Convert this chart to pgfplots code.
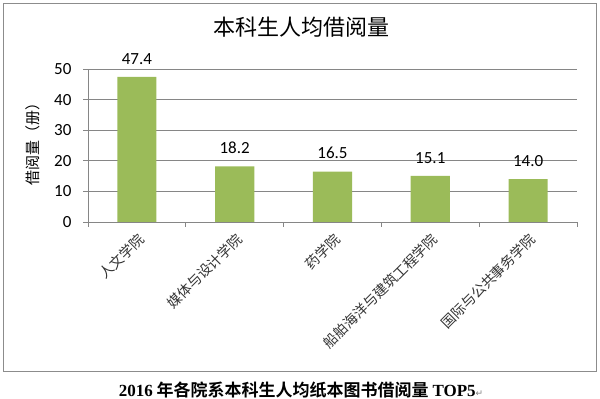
\documentclass[border=0pt]{standalone}
\usepackage{fontspec}
\setmainfont{Carlito}
\newfontfamily\cjk{Noto Sans CJK SC}[BoldFont={Noto Sans CJK SC Bold}]
\newfontfamily\tnr{Liberation Serif}
\newfontfamily\dejavu{DejaVu Sans}
\usepackage{pgfplots}
\pgfplotsset{compat=1.18}
\definecolor{bargreen}{HTML}{9BBB59}
\definecolor{gridgray}{HTML}{868686}
\definecolor{boxgray}{HTML}{8C8C8C}
\begin{document}
\begin{tikzpicture}[x=1pt,y=1pt]
\useasboundingbox (0,0) rectangle (600,399);
\draw[boxgray, line width=1pt] (3.5,27) rectangle (596.5,395.5);
\coordinate (A) at (88,177);
\begin{axis}[
  at={(A)}, anchor=south west,
  scale only axis, width=489pt, height=153pt,
  xmin=-0.5, xmax=4.5, ymin=0, ymax=50,
  ytick={0,10,...,50},
  ymajorgrids, grid style={gridgray, line width=0.8pt},
  axis x line*=bottom, axis y line*=left,
  axis line style={gridgray, line width=0.8pt, -},
  tick style={gridgray, line width=0.8pt},
  tick align=outside,
  major tick length=5pt,
  xtick={0,1,2,3,4},
  xticklabels={人文学院,媒体与设计学院,药学院,船舶海洋与建筑工程学院,国际与公共事务学院},
  x tick style={draw=none},
  extra x ticks={-0.5,0.5,1.5,2.5,3.5,4.5},
  extra x tick labels={},
  extra x tick style={grid=none, x tick style={draw=gridgray}},
  xticklabel style={rotate=45, anchor=north east, font=\cjk\fontsize{14}{14}\selectfont, text=black!80},
  yticklabel style={font=\fontsize{17}{17}\selectfont, text=black, xshift=-8pt},
  /pgf/number format/assume math mode=true,
  ylabel={\cjk 借阅量（册）},
  ylabel style={at={(axis description cs:-0.112,0.53)}, anchor=center, font=\fontsize{15}{15}\selectfont},
  title={\cjk 本科生人均借阅量},
  title style={at={(axis description cs:0.436,1.235)}, anchor=center, font=\fontsize{22}{22}\selectfont},
  ybar, bar width=0.4,
  nodes near coords={\pgfmathprintnumber[fixed,fixed zerofill,precision=1]{\pgfplotspointmeta}},
  nodes near coords style={font=\fontsize{17}{17}\selectfont, text=black, yshift=9pt},
]
\addplot[fill=bargreen, draw=none] coordinates {(0,47.4) (1,18.2) (2,16.5) (3,15.1) (4,14.0)};
\end{axis}
\node[font=\fontsize{17}{17}\selectfont\bfseries] at (301,9) {{\tnr 2016} {\cjk 年各院系本科生人均纸本图书借阅量} {\tnr TOP5}{\dejavu\mdseries\fontsize{9}{9}\selectfont\color{gray}↵}};
\end{tikzpicture}
\end{document}
